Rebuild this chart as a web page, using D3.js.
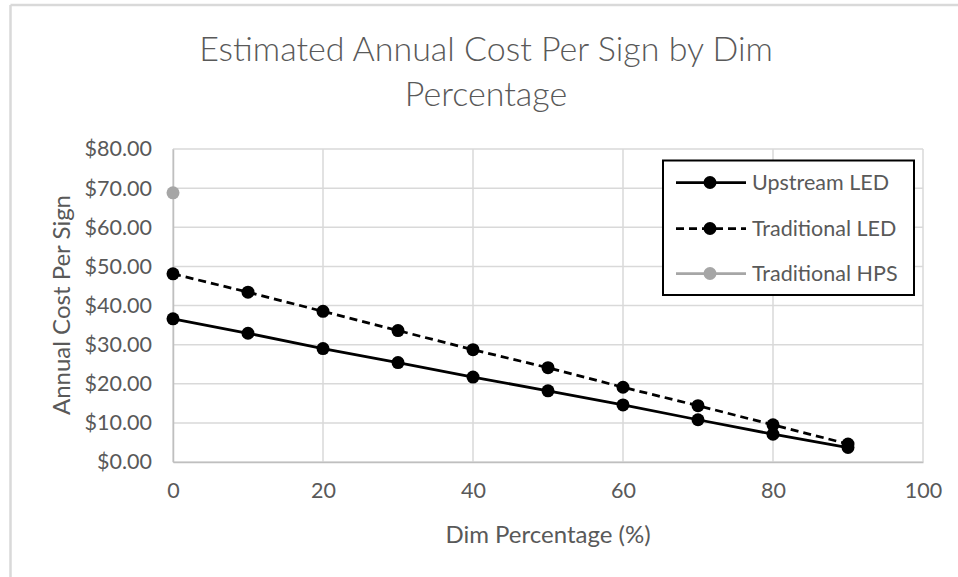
<!DOCTYPE html>
<html><head><meta charset="utf-8">
<script src="https://cdn.jsdelivr.net/npm/d3@7"></script>
<style>body{margin:0;background:#fff;} svg{display:block;} text{font-family:Lato,"Open Sans",sans-serif;fill:#595959;}</style>
</head><body><svg id="c" width="958" height="577"></svg>
<script>
const dimPct = [0,10,20,30,40,50,60,70,80,90];
const upstreamLED = [36.6,32.9,29.0,25.4,21.7,18.2,14.6,10.8,7.1,3.7];
const traditionalLED = [48.1,43.4,38.5,33.6,28.7,24.1,19.1,14.4,9.5,4.6];
const hpsPct = [0];
const traditionalHPS = [68.8];
const yTicks = [0,10,20,30,40,50,60,70,80];
const xTicks = [0,20,40,60,80,100];
const seriesNames = ["Upstream LED","Traditional LED","Traditional HPS"];
const seriesColors = ["#000000","#000000","#a6a6a6"];
const seriesDash = [null,"8,5",null];

const svg = d3.select("#c");
svg.append("line").attr("x1",10.5).attr("x2",958).attr("y1",5).attr("y2",5).attr("stroke","#d9d9d9").attr("stroke-width",2.5);
svg.append("line").attr("x1",10.5).attr("x2",10.5).attr("y1",5).attr("y2",577).attr("stroke","#d9d9d9").attr("stroke-width",2.5);

const x = d3.scaleLinear().domain([0,100]).range([173,923]);
const y = d3.scaleLinear().domain([0,80]).range([462,149]);

svg.append("g").selectAll("line").data(yTicks).join("line")
  .attr("x1",x(0)).attr("x2",x(100)).attr("y1",d=>y(d)).attr("y2",d=>y(d))
  .attr("stroke","#d9d9d9").attr("stroke-width",1.5);
svg.append("g").selectAll("line").data(xTicks).join("line")
  .attr("y1",y(0)).attr("y2",y(80)).attr("x1",d=>x(d)).attr("x2",d=>x(d))
  .attr("stroke","#d9d9d9").attr("stroke-width",1.5);

const yAxis = d3.axisLeft(y).tickValues(yTicks).tickSize(0).tickPadding(21).tickFormat(d=>"$"+d3.format(".2f")(d));
const gy = svg.append("g").attr("transform",`translate(${x(0)},0)`).call(yAxis);
gy.select(".domain").attr("stroke","#bfbfbf").attr("stroke-width",1.5);
gy.selectAll("text").style("font-size","21.5px").attr("fill","#595959");
const xAxis = d3.axisBottom(x).tickValues(xTicks).tickSize(0).tickPadding(21);
const gx = svg.append("g").attr("transform",`translate(0,${y(0)})`).call(xAxis);
gx.select(".domain").attr("stroke","#bfbfbf").attr("stroke-width",1.5);
gx.selectAll("text").style("font-size","21.5px").attr("fill","#595959");

const data = [
  dimPct.map((d,i)=>[d,upstreamLED[i]]),
  dimPct.map((d,i)=>[d,traditionalLED[i]]),
  hpsPct.map((d,i)=>[d,traditionalHPS[i]])
];
const line = d3.line().x(d=>x(d[0])).y(d=>y(d[1]));
data.forEach((s,k)=>{
  const g = svg.append("g");
  g.append("path").datum(s).attr("d",line).attr("fill","none")
    .attr("stroke",seriesColors[k]).attr("stroke-width",2.75)
    .attr("stroke-dasharray",seriesDash[k]);
  g.selectAll("circle").data(s).join("circle")
    .attr("cx",d=>x(d[0])).attr("cy",d=>y(d[1])).attr("r",6.5)
    .attr("fill",seriesColors[k]);
});

const title = svg.append("text").attr("text-anchor","middle").style("font-size","34px").style("font-weight","300");
title.append("tspan").attr("x",486).attr("y",61).text("Estimated Annual Cost Per Sign by Dim");
title.append("tspan").attr("x",486).attr("y",106).text("Percentage");
svg.append("text").attr("text-anchor","middle").attr("transform","translate(70,305) rotate(-90)")
  .style("font-size","24px").text("Annual Cost Per Sign");
svg.append("text").attr("text-anchor","middle").attr("x",548).attr("y",543)
  .style("font-size","24px").text("Dim Percentage (%)");

const lg = svg.append("g");
lg.append("rect").attr("x",663).attr("y",160.5).attr("width",251).attr("height",134.5)
  .attr("fill","#fff").attr("stroke","#000").attr("stroke-width",2);
const rowY = [182.5,228.5,273.5];
seriesNames.forEach((n,k)=>{
  lg.append("line").attr("x1",676).attr("x2",746).attr("y1",rowY[k]).attr("y2",rowY[k])
    .attr("stroke",seriesColors[k]).attr("stroke-width",2.75).attr("stroke-dasharray",seriesDash[k]);
  lg.append("circle").attr("cx",710).attr("cy",rowY[k]).attr("r",6.5).attr("fill",seriesColors[k]);
  lg.append("text").attr("x",752).attr("y",rowY[k]).attr("dy","0.35em").style("font-size","21.5px").text(n);
});
</script></body></html>
